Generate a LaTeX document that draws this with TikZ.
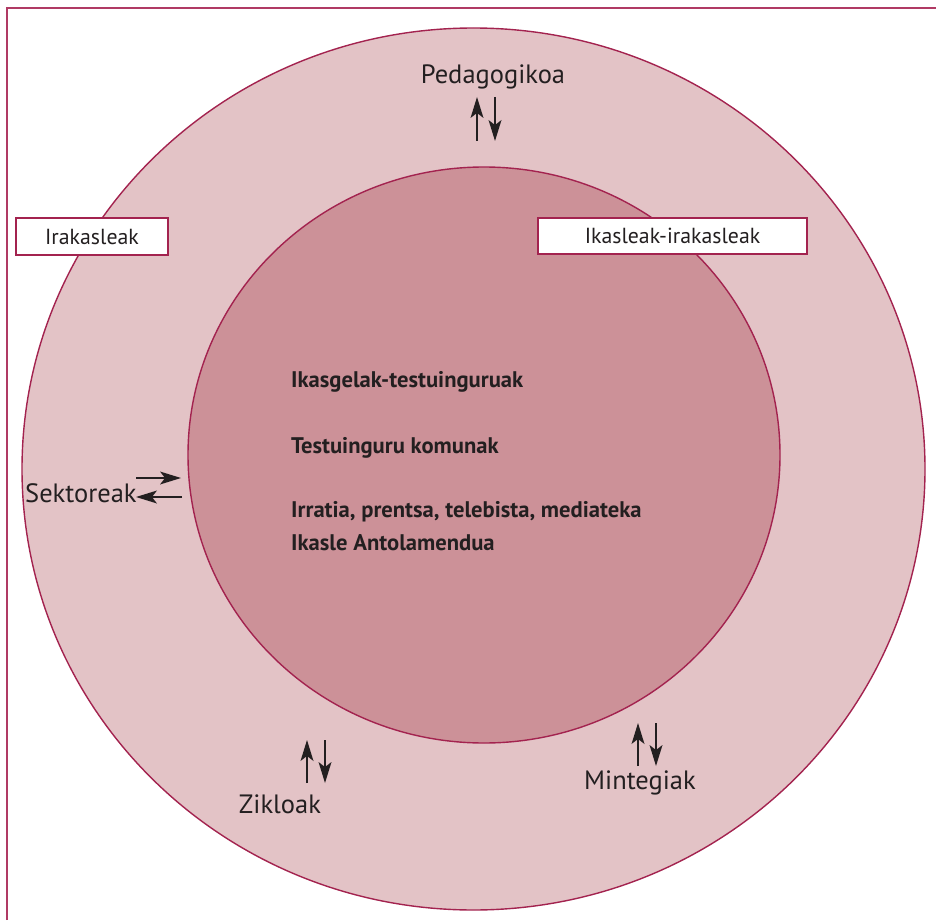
\documentclass[tikz,border=0pt]{standalone}
\usepackage{fontspec}
\setmainfont{PT Sans}
\usetikzlibrary{calc}
\definecolor{edgecol}{HTML}{A3234F}
\definecolor{framecol}{HTML}{B03A64}
\definecolor{outerfill}{HTML}{E3C3C6}
\definecolor{innerfill}{HTML}{CC9198}
\definecolor{txt}{HTML}{231F20}
\tikzset{
  ring/.style={draw=edgecol, line width=1.4pt},
  tagbox/.style={draw=edgecol, fill=white, line width=1.2pt, inner sep=0pt, text=txt, font=\fontsize{21.8}{24}\selectfont},
  biglabel/.style={inner sep=0pt, text=txt, font=\fontsize{26.5}{30}\selectfont},
  innertext/.style={inner sep=0pt, text=txt, anchor=base west, font=\bfseries\fontsize{22.6}{26}\selectfont},
  flow/.style={draw=txt, line width=1.1pt},
  flowhead/.style={fill=txt}
}
\newcommand{\flowarr}[2]{%
  \coordinate (hb) at ($(#2)!21pt!(#1)$);
  \draw[flow] (#1) -- ($(#2)!12pt!(#1)$);
  \fill[flowhead] (#2) -- ($(hb)!6.5pt!90:(#2)$) -- ($(#2)!16pt!(#1)$) -- ($(hb)!6.5pt!-90:(#2)$) -- cycle;
}
\begin{document}
\begin{tikzpicture}[x=1pt,y=-1pt]
\useasboundingbox (0,0) rectangle (936,920);
% frame
\draw[framecol, line width=1.3pt] (7,920) -- (7,8) -- (936,8);
% circles
\fill[outerfill] (473.5,469) ellipse [x radius=451.5, y radius=441];
\draw[ring] (473.5,469) ellipse [x radius=451.5, y radius=441];
\fill[innerfill] (484,455) ellipse [x radius=296, y radius=288];
\draw[ring] (484,455) ellipse [x radius=296, y radius=288];
% boxes
\node[tagbox, minimum width=152pt, minimum height=37pt] (irak) at (92,236.5) {Irakasleak};
\node[tagbox, minimum width=269pt, minimum height=36pt] (ikir) at (672.5,236) {Ikasleak-irakasleak};
% inner text
\node[innertext] (t1) at (291,387) {Ikasgelak-testuinguruak};
\node[innertext] (t2) at (291,453) {Testuinguru komunak};
\node[innertext] (t3) at (291,517) {Irratia, prentsa, telebista, mediateka};
\node[innertext] (t4) at (291,550) {Ikasle Antolamendua};
% outer labels
\node[biglabel, anchor=base] (ped) at (493,84) {Pedagogikoa};
\node[biglabel, anchor=base west] (sek) at (25,502) {Sektoreak};
\node[biglabel, anchor=base] (zik) at (280,813) {Zikloak};
\node[biglabel, anchor=base] (min) at (640,789) {Mintegiak};
% arrow coordinates
\coordinate (pu1) at (477,141); \coordinate (pu2) at (477,97);
\coordinate (pd1) at (495,97);  \coordinate (pd2) at (495,141);
\coordinate (sr1) at (136,478); \coordinate (sr2) at (181,478);
\coordinate (sl1) at (182,497); \coordinate (sl2) at (136,497);
\coordinate (zu1) at (307,783); \coordinate (zu2) at (307,740);
\coordinate (zd1) at (325,740); \coordinate (zd2) at (325,783);
\coordinate (mu1) at (638,766); \coordinate (mu2) at (638,723);
\coordinate (md1) at (656,723); \coordinate (md2) at (656,766);
\flowarr{pu1}{pu2}
\flowarr{pd1}{pd2}
\flowarr{sr1}{sr2}
\flowarr{sl1}{sl2}
\flowarr{zu1}{zu2}
\flowarr{zd1}{zd2}
\flowarr{mu1}{mu2}
\flowarr{md1}{md2}
\end{tikzpicture}
\end{document}
